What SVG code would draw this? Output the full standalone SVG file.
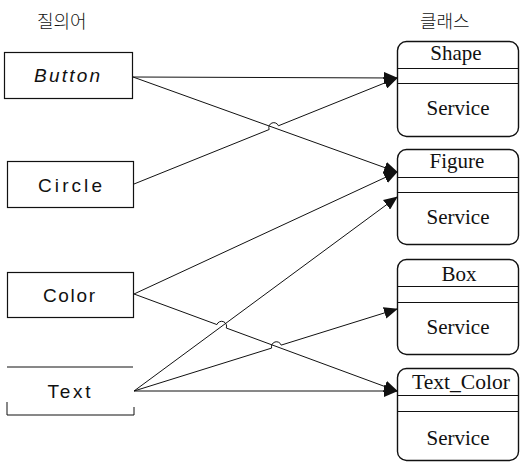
<svg xmlns="http://www.w3.org/2000/svg" width="520" height="463" viewBox="0 0 520 463">
<style>
.bx{fill:#fff;stroke:#111;stroke-width:1.2}
.cl{fill:#fff;stroke:#111;stroke-width:1.4}
.dv{stroke:#111;stroke-width:1.2}
.ql{font-family:"Liberation Sans",Arial,sans-serif;font-size:19px;fill:#111;text-anchor:middle}
.ct{font-family:"Liberation Serif","Times New Roman",serif;font-size:21px;fill:#111;text-anchor:middle}
.hd{font-family:"Noto Sans CJK KR","Noto Sans",sans-serif;font-size:18px;font-weight:300;fill:#111}
.cn{fill:none;stroke:#111;stroke-width:1}
</style>
<defs>
<marker id="ah" markerWidth="14" markerHeight="12" refX="13" refY="6" orient="auto" markerUnits="userSpaceOnUse">
<path d="M0,0 L14,6 L0,12 Z" fill="#111"/>
</marker>
</defs>
<text class="hd" x="37" y="28">질의어</text>
<text class="hd" x="420" y="28">클래스</text>
<g id="q-button"><rect class="bx" x="4.5" y="52.5" width="128" height="46"/><text class="ql" x="67" y="82" font-style="italic" textLength="66" lengthAdjust="spacing">Button</text></g>
<g id="q-circle"><rect class="bx" x="7.5" y="161.5" width="126" height="46"/><text class="ql" x="70" y="192" textLength="64" lengthAdjust="spacing">Circle</text></g>
<g id="q-color"><rect class="bx" x="7.5" y="272.5" width="126" height="45"/><text class="ql" x="69" y="302" textLength="52" lengthAdjust="spacing">Color</text></g>
<g id="q-text"><path class="cn" d="M7,367 H133 M7,402 V415 H134 V407" stroke-width="1.2"/><text class="ql" x="69" y="398" textLength="43" lengthAdjust="spacing">Text</text></g>
<g id="c-shape"><rect class="cl" x="397.5" y="41.5" width="121" height="95" rx="9"/><line class="dv" x1="397.5" y1="68.5" x2="518.5" y2="68.5"/><line class="dv" x1="397.5" y1="83.5" x2="518.5" y2="83.5"/><text class="ct" x="456" y="60">Shape</text><text class="ct" x="458" y="115">Service</text></g>
<g id="c-figure"><rect class="cl" x="397.5" y="149.5" width="121" height="95" rx="9"/><line class="dv" x1="397.5" y1="177.5" x2="518.5" y2="177.5"/><line class="dv" x1="397.5" y1="192.5" x2="518.5" y2="192.5"/><text class="ct" x="457" y="168">Figure</text><text class="ct" x="458" y="224">Service</text></g>
<g id="c-box"><rect class="cl" x="397.5" y="259.5" width="121" height="95" rx="9"/><line class="dv" x1="397.5" y1="286.5" x2="518.5" y2="286.5"/><line class="dv" x1="397.5" y1="302.5" x2="518.5" y2="302.5"/><text class="ct" x="459" y="281">Box</text><text class="ct" x="458" y="334">Service</text></g>
<g id="c-textcolor"><rect class="cl" x="397.5" y="368.5" width="121" height="92" rx="9"/><line class="dv" x1="397.5" y1="395.5" x2="518.5" y2="395.5"/><line class="dv" x1="397.5" y1="411.5" x2="518.5" y2="411.5"/><text class="ct" x="461" y="389" textLength="98" lengthAdjust="spacingAndGlyphs">Text_Color</text><text class="ct" x="458" y="445">Service</text></g>
<g id="connectors">
<path class="cn" marker-end="url(#ah)" d="M133,77 L397,78"/>
<path class="cn" marker-end="url(#ah)" d="M133,77 L397,172"/>
<path class="cn" marker-end="url(#ah)" d="M134,184 L269.16,129.52 A5,5 0 0 1 278.44,125.78 L397,78"/>
<path class="cn" marker-end="url(#ah)" d="M134,294 L397,172"/>
<path class="cn" marker-end="url(#ah)" d="M134,294 L216.9,324.57 A5,5 0 0 1 226.29,328.03 L397,391"/>
<path class="cn" marker-end="url(#ah)" d="M134,391 L397,197"/>
<path class="cn" marker-end="url(#ah)" d="M134,391 L271.63,348.09 A5,5 0 0 1 281.17,345.11 L397,309"/>
<path class="cn" marker-end="url(#ah)" d="M134,391 L397,391"/>
</g>
</svg>
